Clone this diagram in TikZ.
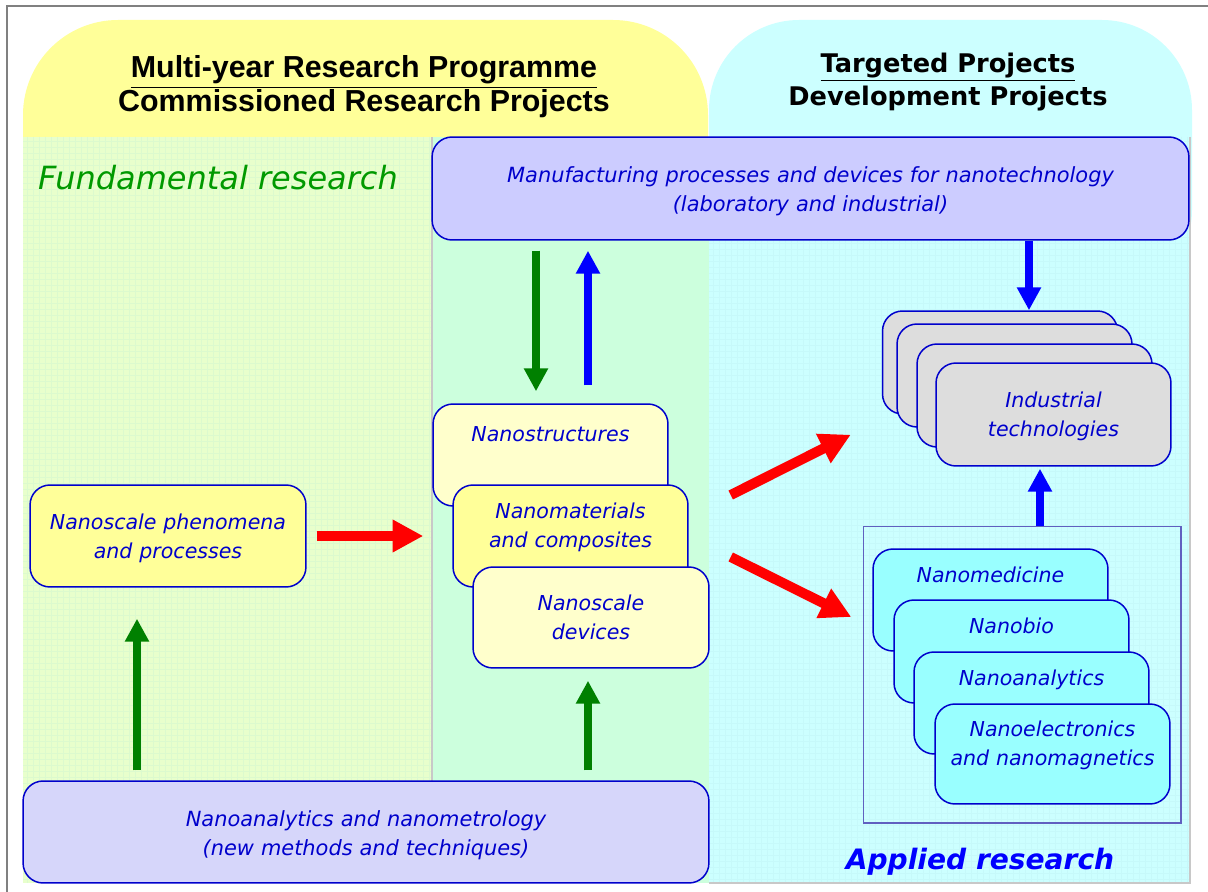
\documentclass[tikz,border=0pt]{standalone}
\usepackage{fontspec}
\setmainfont{DejaVu Sans}
\newfontfamily\arialfont{Liberation Sans}
\usetikzlibrary{arrows.meta}

\definecolor{headyellow}{RGB}{255,255,153}
\definecolor{headcyan}{RGB}{204,255,255}
\definecolor{fundbg}{RGB}{232,255,204}
\definecolor{gridgreen}{RGB}{220,250,206}
\definecolor{midbg}{RGB}{204,255,221}
\definecolor{appbg}{RGB}{204,255,255}
\definecolor{gridcyan}{RGB}{198,249,250}
\definecolor{sepgray}{RGB}{200,200,200}
\definecolor{framegray}{RGB}{128,128,128}
\definecolor{manufill}{RGB}{204,204,255}
\definecolor{metrofill}{RGB}{214,214,250}
\definecolor{phenfill}{RGB}{255,255,153}
\definecolor{palefill}{RGB}{255,255,204}
\definecolor{grayfill}{RGB}{221,221,221}
\definecolor{aquafill}{RGB}{153,255,255}
\definecolor{boxblue}{RGB}{0,0,204}
\definecolor{sqblue}{RGB}{96,96,192}
\definecolor{fundgreen}{RGB}{0,153,0}
\definecolor{applblue}{RGB}{0,0,255}
\definecolor{arrowgreen}{RGB}{0,128,0}
\definecolor{arrowblue}{RGB}{0,0,255}
\definecolor{arrowred}{RGB}{255,0,0}

\begin{document}
\begin{tikzpicture}[x=0.02cm,y=-0.02cm,
  box/.style={draw=boxblue, line width=0.85pt, rounded corners=0.4cm, inner sep=0pt,
    align=center, text=boxblue, font=\fontsize{11.7}{16.7}\selectfont\itshape},
  widebox/.style={box, font=\fontsize{11.9}{16.9}\selectfont\itshape},
  garrow/.style={draw=arrowgreen, line width=0.16cm, -{Triangle[length=13pt,width=13pt]}},
  barrow/.style={draw=arrowblue, line width=0.16cm, -{Triangle[length=13pt,width=13pt]}},
  rarrow/.style={draw=arrowred, line width=0.2cm, -{Triangle[length=17.5pt,width=17.5pt]}}]

  % Background
  \path[use as bounding box, fill=white] (0,0) rectangle (1208,892);
  \draw[framegray, line width=0.04cm] (7,892) -- (7,6) -- (1208,6);
  \fill[headyellow, rounded corners=1.9cm] (23,300) |- (708,20) -- (708,300) -- cycle;
  \fill[headcyan, rounded corners=1.8cm] (709,300) |- (1192,20) -- (1192,300) -- cycle;
  \fill[fundbg] (23,137) rectangle (432,883);
  \foreach \gx in {27,33,...,429} \draw[gridgreen, line width=0.3pt] (\gx,137) -- (\gx,883);
  \foreach \gy in {141,147,...,879} \draw[gridgreen, line width=0.3pt] (23,\gy) -- (432,\gy);
  \fill[midbg] (432,137) rectangle (709,883);
  \fill[appbg] (709,137) rectangle (1190,883);
  \foreach \gx in {713,719,...,1187} \draw[gridcyan, line width=0.25pt] (\gx,137) -- (\gx,883);
  \foreach \gy in {141,147,...,879} \draw[gridcyan, line width=0.25pt] (709,\gy) -- (1190,\gy);
  \draw[sepgray, line width=0.6pt] (432,137) -- (432,883);
  \draw[sepgray, line width=0.8pt] (1190,137) -- (1190,883) -- (709,883);

  % Headings
  \node[font=\arialfont\bfseries\fontsize{17.3}{18.2}\selectfont, align=center] (progr) at (364,87)
    {\underline{Multi-year Research Programme}\\Commissioned Research Projects};
  \node[font=\bfseries\fontsize{14.6}{18.7}\selectfont, align=center] (target) at (948,82)
    {\underline{Targeted Projects}\\Development Projects};
  \node[font=\fontsize{18.2}{21}\selectfont\itshape, text=fundgreen] (fund) at (218,178) {Fundamental research};
  \node[font=\fontsize{16}{19}\selectfont\bfseries\itshape, text=applblue] (appl) at (980,862) {Applied research};

  % Nodes
  \node[widebox, fill=manufill, text width=15.14cm, text height=0.9cm, text depth=1.16cm] (manuf) at (810.5,188.5)
    {Manufacturing processes and devices for nanotechnology\\(laboratory and industrial)};
  \node[widebox, fill=metrofill, text width=13.72cm, text height=0.9cm, text depth=1.14cm] (metro) at (366,832)
    {Nanoanalytics and nanometrology\\(new methods and techniques)};
  \node[box, fill=phenfill, text width=5.52cm, text height=0.88cm, text depth=1.16cm] (phen) at (168,536)
    {Nanoscale phenomena\\and processes};

  \node[box, fill=palefill, text width=4.7cm, text height=0.74cm, text depth=1.3cm] (nstruct) at (550.5,455) {Nanostructures};
  \node[box, fill=phenfill, text width=4.7cm, text height=0.66cm, text depth=1.38cm] (nmat) at (570.5,536) {Nanomaterials\\and composites};
  \node[box, fill=palefill, minimum width=4.72cm, minimum height=2.02cm] (ndev) at (591,617.5) {Nanoscale\\devices};

  \node[box, fill=grayfill, minimum width=4.7cm, minimum height=2.06cm] (indA) at (1000,362.5) {};
  \node[box, fill=grayfill, minimum width=4.7cm, minimum height=2.06cm] (indB) at (1014.5,375.5) {};
  \node[box, fill=grayfill, minimum width=4.7cm, minimum height=2.06cm] (indC) at (1034.5,395.5) {};
  \node[box, fill=grayfill, text width=4.7cm, text height=0.88cm, text depth=1.18cm] (ind) at (1053.5,414.5) {Industrial\\technologies};

  \node[draw=sqblue, line width=0.6pt, minimum width=6.36cm, minimum height=5.94cm, inner sep=0pt] (appbox) at (1022,674.5) {};
  \node[box, fill=aquafill, text width=4.7cm, text height=0.66cm, text depth=1.38cm] (med) at (990.5,600) {Nanomedicine};
  \node[box, fill=aquafill, text width=4.7cm, text height=0.66cm, text depth=1.4cm] (bio) at (1011.5,651.5) {Nanobio};
  \node[box, fill=aquafill, text width=4.7cm, text height=0.66cm, text depth=1.38cm] (anal) at (1031.5,703) {Nanoanalytics};
  \node[box, fill=aquafill, text width=4.7cm, text height=0.64cm, text depth=1.36cm] (elec) at (1052.5,754) {Nanoelectronics\\and nanomagnetics};

  % Arrows
  \draw[garrow, shorten <=0.2cm, shorten >=0.24cm] (manuf.south -| 536,0) -- (nstruct.north -| 536,0);
  \draw[barrow, shorten <=0.36cm, shorten >=0.2cm] (nstruct.north -| 588,0) -- (manuf.south -| 588,0);
  \draw[barrow] (manuf.south -| 1029,0) -- (indA.north -| 1029,0);
  \draw[rarrow, shorten <=0.2cm, shorten >=0.58cm] (phen.east) -- (phen.east -| nmat.west);
  \draw[rarrow] ([shift={(42,-41)}]nmat.east) -- ([shift={(-31,20)}]indA.south west);
  \draw[rarrow] ([shift={(42,21)}]nmat.east) -- ([shift={(-21,17)}]med.west);
  \draw[barrow, shorten >=0.04cm] (appbox.north -| 1040,0) -- (ind.south -| 1040,0);
  \draw[garrow, shorten <=0.2cm, shorten >=0.62cm] (metro.north -| 137,0) -- (phen.south -| 137,0);
  \draw[garrow, shorten <=0.2cm, shorten >=0.24cm] (metro.north -| 588,0) -- (ndev.south -| 588,0);
\end{tikzpicture}
\end{document}
